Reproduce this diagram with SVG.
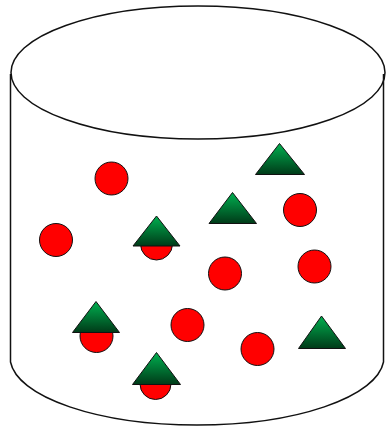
<svg xmlns="http://www.w3.org/2000/svg" width="387" height="432" viewBox="0 0 387 432">
<defs>
<linearGradient id="g" x1="0" y1="0" x2="0" y2="1">
<stop offset="0" stop-color="#00b050"/>
<stop offset="1" stop-color="#003a18"/>
</linearGradient>
<style>
.cyl{fill:none;stroke:#111;stroke-width:1.5}
.c{fill:#ff0000;stroke:#111;stroke-width:1}
.t{fill:url(#g);stroke:#111;stroke-width:1;stroke-linejoin:round}
</style>
</defs>
<rect width="387" height="432" fill="#fff"/>
<g id="cylinder">
<ellipse class="cyl" cx="198" cy="72.5" rx="187" ry="66.5"/>
<path class="cyl" d="M10.5,74 V362 A187,68 0 0 0 383.5,362 V74"/>
</g>
<g id="connectors"/>
<g id="c1"><circle class="c" cx="111.5" cy="178.5" r="16.5"/></g>
<g id="c2"><circle class="c" cx="56" cy="240" r="16.5"/></g>
<g id="c3"><circle class="c" cx="300" cy="210" r="16.5"/></g>
<g id="c4"><circle class="c" cx="225" cy="273.5" r="16.5"/></g>
<g id="c5"><circle class="c" cx="314.5" cy="266.5" r="16.5"/></g>
<g id="c6"><circle class="c" cx="187.5" cy="325" r="16.5"/></g>
<g id="c7"><circle class="c" cx="257.5" cy="349" r="16.5"/></g>
<g id="t1"><polygon class="t" points="279.5,143.5 304.5,174.5 255.5,174.5"/></g>
<g id="t2"><polygon class="t" points="232.5,192.5 256.5,223.5 209,223.5"/></g>
<g id="t3"><polygon class="t" points="321.5,316 345.5,348.5 298.5,348.5"/></g>
<g id="tc1">
<circle class="c" cx="156.5" cy="244" r="16"/>
<polygon class="t" points="156.5,216 180,246 133,246"/>
</g>
<g id="tc2">
<circle class="c" cx="96.5" cy="336" r="16.5"/>
<polygon class="t" points="96,301.5 119.5,332.5 72.5,332.5"/>
</g>
<g id="tc3">
<circle class="c" cx="155.5" cy="384" r="15.5"/>
<polygon class="t" points="156.5,352.5 180.5,384.5 132.5,384.5"/>
</g>
</svg>
